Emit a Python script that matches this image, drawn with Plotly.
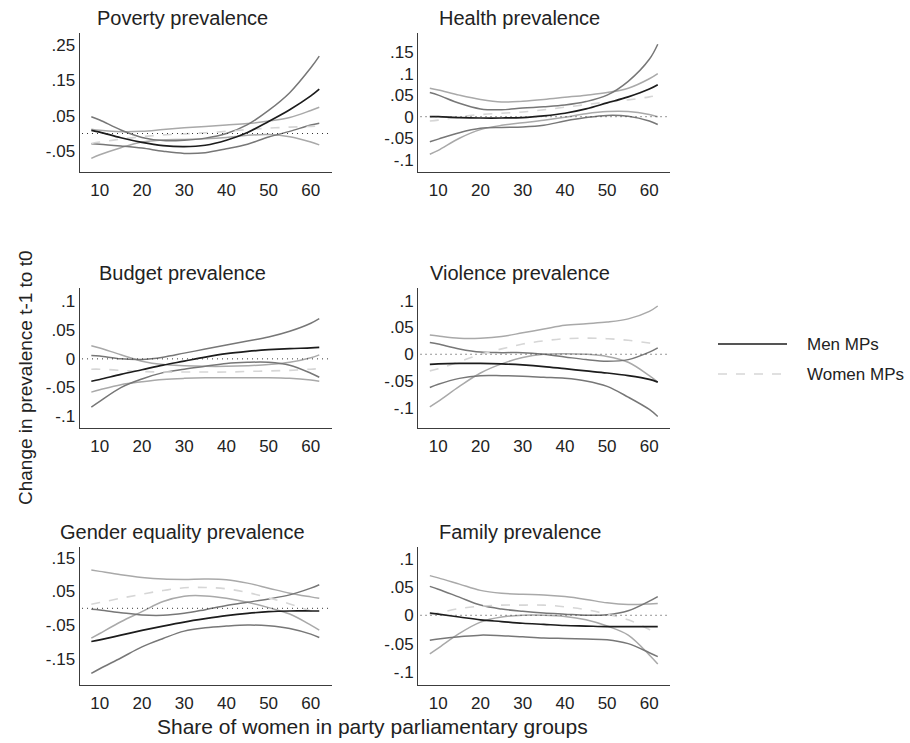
import plotly.graph_objects as go

# Share of women in party parliamentary groups (evaluation points)
share = [8, 10, 15, 20, 25, 30, 35, 40, 45, 50, 55, 60, 62]

# Poverty prevalence
poverty_men = [0.009, 0.004, -0.012, -0.025, -0.034, -0.037, -0.033, -0.019, 0.003, 0.034, 0.067, 0.106, 0.125]
poverty_men_hi = [0.047, 0.038, 0.010, -0.011, -0.020, -0.019, -0.013, 0.000, 0.025, 0.065, 0.115, 0.185, 0.218]
poverty_men_lo = [-0.029, -0.030, -0.035, -0.041, -0.050, -0.056, -0.054, -0.043, -0.030, -0.010, 0.006, 0.024, 0.029]
poverty_women = [-0.028, -0.024, -0.016, -0.009, -0.004, -0.001, 0.002, 0.006, 0.011, 0.015, 0.018, 0.020, 0.021]
poverty_women_hi = [0.012, 0.009, 0.005, 0.006, 0.011, 0.016, 0.020, 0.024, 0.028, 0.035, 0.045, 0.065, 0.074]
poverty_women_lo = [-0.070, -0.060, -0.040, -0.024, -0.018, -0.017, -0.015, -0.011, -0.005, -0.003, -0.009, -0.024, -0.032]

# Health prevalence
health_men = [0.000, 0.000, -0.002, -0.003, -0.003, -0.002, 0.002, 0.008, 0.018, 0.032, 0.046, 0.064, 0.074]
health_men_hi = [0.056, 0.050, 0.031, 0.018, 0.016, 0.020, 0.023, 0.027, 0.035, 0.050, 0.082, 0.133, 0.168]
health_men_lo = [-0.058, -0.052, -0.037, -0.027, -0.025, -0.024, -0.020, -0.010, -0.002, 0.003, 0.001, -0.010, -0.018]
health_women = [-0.010, -0.008, 0.000, 0.005, 0.008, 0.011, 0.016, 0.022, 0.028, 0.034, 0.039, 0.046, 0.050]
health_women_hi = [0.066, 0.062, 0.050, 0.040, 0.034, 0.036, 0.040, 0.045, 0.050, 0.056, 0.066, 0.088, 0.100]
health_women_lo = [-0.087, -0.078, -0.050, -0.030, -0.020, -0.014, -0.008, -0.001, 0.007, 0.012, 0.012, 0.005, 0.000]

# Budget prevalence
budget_men = [-0.039, -0.036, -0.027, -0.019, -0.011, -0.004, 0.003, 0.009, 0.013, 0.016, 0.018, 0.019, 0.020]
budget_men_hi = [0.006, 0.005, 0.000, -0.001, 0.003, 0.010, 0.017, 0.024, 0.031, 0.038, 0.048, 0.062, 0.070]
budget_men_lo = [-0.084, -0.074, -0.050, -0.035, -0.024, -0.018, -0.013, -0.008, -0.006, -0.006, -0.011, -0.025, -0.032]
budget_women = [-0.018, -0.018, -0.020, -0.022, -0.023, -0.023, -0.023, -0.023, -0.022, -0.021, -0.020, -0.018, -0.017]
budget_women_hi = [0.023, 0.019, 0.007, -0.004, -0.010, -0.012, -0.013, -0.013, -0.012, -0.010, -0.006, 0.002, 0.007]
budget_women_lo = [-0.058, -0.054, -0.045, -0.040, -0.036, -0.034, -0.033, -0.033, -0.033, -0.033, -0.034, -0.037, -0.039]

# Violence prevalence
violence_men = [-0.019, -0.018, -0.017, -0.017, -0.018, -0.020, -0.023, -0.027, -0.031, -0.035, -0.040, -0.047, -0.052]
violence_men_hi = [0.022, 0.019, 0.010, 0.004, 0.003, 0.003, 0.000, -0.005, -0.010, -0.013, -0.010, 0.004, 0.012]
violence_men_lo = [-0.062, -0.056, -0.045, -0.040, -0.040, -0.041, -0.043, -0.045, -0.050, -0.060, -0.080, -0.103, -0.116]
violence_women = [-0.031, -0.027, -0.014, 0.000, 0.010, 0.019, 0.025, 0.029, 0.030, 0.029, 0.026, 0.021, 0.019]
violence_women_hi = [0.036, 0.034, 0.030, 0.030, 0.033, 0.040, 0.047, 0.054, 0.057, 0.060, 0.066, 0.080, 0.090]
violence_women_lo = [-0.098, -0.088, -0.060, -0.035, -0.018, -0.006, 0.000, 0.001, 0.000, -0.004, -0.015, -0.040, -0.052]

# Gender equality prevalence
gender_men = [-0.099, -0.094, -0.080, -0.066, -0.053, -0.041, -0.031, -0.022, -0.015, -0.010, -0.008, -0.008, -0.008]
gender_men_hi = [-0.003, -0.005, -0.013, -0.020, -0.021, -0.015, -0.004, 0.008, 0.018, 0.028, 0.040, 0.060, 0.070]
gender_men_lo = [-0.194, -0.180, -0.148, -0.115, -0.090, -0.068, -0.058, -0.053, -0.050, -0.052, -0.060, -0.077, -0.087]
gender_women = [0.012, 0.017, 0.030, 0.042, 0.053, 0.061, 0.062, 0.058, 0.047, 0.031, 0.013, -0.008, -0.017]
gender_women_hi = [0.114, 0.110, 0.100, 0.092, 0.087, 0.086, 0.087, 0.085, 0.075, 0.060, 0.045, 0.034, 0.030]
gender_women_lo = [-0.089, -0.075, -0.040, -0.010, 0.020, 0.036, 0.037, 0.030, 0.018, 0.002, -0.017, -0.050, -0.065]

# Family prevalence
family_men = [0.004, 0.002, -0.003, -0.008, -0.011, -0.014, -0.016, -0.018, -0.019, -0.020, -0.020, -0.020, -0.020]
family_men_hi = [0.051, 0.046, 0.032, 0.018, 0.011, 0.007, 0.004, 0.002, 0.000, 0.001, 0.008, 0.025, 0.033]
family_men_lo = [-0.044, -0.042, -0.038, -0.035, -0.036, -0.038, -0.040, -0.041, -0.042, -0.043, -0.050, -0.066, -0.073]
family_women = [0.001, 0.004, 0.012, 0.016, 0.018, 0.018, 0.018, 0.015, 0.010, 0.002, -0.008, -0.025, -0.033]
family_women_hi = [0.070, 0.066, 0.055, 0.044, 0.039, 0.037, 0.036, 0.033, 0.028, 0.022, 0.019, 0.020, 0.021]
family_women_lo = [-0.068, -0.058, -0.032, -0.012, -0.003, 0.000, 0.000, -0.002, -0.008, -0.019, -0.035, -0.070, -0.086]

x_ticks = [10, 20, 30, 40, 50, 60]

panels = [
    dict(title="Poverty prevalence",
         men=poverty_men, men_hi=poverty_men_hi, men_lo=poverty_men_lo,
         women=poverty_women, women_hi=poverty_women_hi, women_lo=poverty_women_lo,
         yticks=[0.25, 0.15, 0.05, -0.05], ytext=[".25", ".15", ".05", "-.05"],
         yrange=[-0.107, 0.283], col=0, top=33, bottom=171.5),
    dict(title="Health prevalence",
         men=health_men, men_hi=health_men_hi, men_lo=health_men_lo,
         women=health_women, women_hi=health_women_hi, women_lo=health_women_lo,
         yticks=[0.15, 0.1, 0.05, 0, -0.05, -0.1], ytext=[".15", ".1", ".05", "0", "-.05", "-.1"],
         yrange=[-0.127, 0.194], col=1, top=33, bottom=171.5),
    dict(title="Budget prevalence",
         men=budget_men, men_hi=budget_men_hi, men_lo=budget_men_lo,
         women=budget_women, women_hi=budget_women_hi, women_lo=budget_women_lo,
         yticks=[0.1, 0.05, 0, -0.05, -0.1], ytext=[".1", ".05", "0", "-.05", "-.1"],
         yrange=[-0.12, 0.123], col=0, top=288.3, bottom=427.7),
    dict(title="Violence prevalence",
         men=violence_men, men_hi=violence_men_hi, men_lo=violence_men_lo,
         women=violence_women, women_hi=violence_women_hi, women_lo=violence_women_lo,
         yticks=[0.1, 0.05, 0, -0.05, -0.1], ytext=[".1", ".05", "0", "-.05", "-.1"],
         yrange=[-0.137, 0.123], col=1, top=288.3, bottom=427.7),
    dict(title="Gender equality prevalence",
         men=gender_men, men_hi=gender_men_hi, men_lo=gender_men_lo,
         women=gender_women, women_hi=gender_women_hi, women_lo=gender_women_lo,
         yticks=[0.15, 0.05, -0.05, -0.15], ytext=[".15", ".05", "-.05", "-.15"],
         yrange=[-0.2285, 0.1826], col=0, top=547, bottom=685),
    dict(title="Family prevalence",
         men=family_men, men_hi=family_men_hi, men_lo=family_men_lo,
         women=family_women, women_hi=family_women_hi, women_lo=family_women_lo,
         yticks=[0.1, 0.05, 0, -0.05, -0.1], ytext=[".1", ".05", "0", "-.05", "-.1"],
         yrange=[-0.123, 0.1205], col=1, top=547, bottom=685),
]

W, H = 910, 743
FONT = "Liberation Sans, Arial, sans-serif"
TEXT = "#222222"
AXIS = "#3c3c3c"
MEN = "#1c1c1c"
MEN_CI = "#777777"
WOMEN = "#d6d6d6"
WOMEN_CI = "#a9a9a9"

col_px = [(79.5, 331.5), (418, 670)]
title_cx = [182, 519.5]
x_range = [5.2, 64.9]

fig = go.Figure()
layout = dict(
    width=W, height=H,
    margin=dict(l=0, r=0, t=0, b=0),
    paper_bgcolor="white", plot_bgcolor="white",
    showlegend=False,
    font=dict(family=FONT, color=TEXT),
)
shapes = []
annotations = []

for i, p in enumerate(panels):
    n = "" if i == 0 else str(i + 1)
    xa, ya = "x" + n, "y" + n
    x0, x1 = col_px[p["col"]]
    layout["xaxis" + n] = dict(
        domain=[x0 / W, x1 / W], range=x_range, anchor=ya,
        tickvals=x_ticks, ticks="", showgrid=False, zeroline=False,
        showline=True, linecolor=AXIS, linewidth=1,
        tickfont=dict(size=17, color=TEXT, family=FONT), ticklabelstandoff=3,
    )
    layout["yaxis" + n] = dict(
        domain=[1 - p["bottom"] / H, 1 - p["top"] / H], range=p["yrange"], anchor=xa,
        tickvals=p["yticks"], ticktext=p["ytext"], ticks="", showgrid=False, zeroline=False,
        showline=True, linecolor=AXIS, linewidth=1,
        tickfont=dict(size=17, color=TEXT, family=FONT), ticklabelstandoff=0,
    )
    # dotted reference line at zero
    shapes.append(dict(type="line", xref=xa + " domain", yref=ya, x0=0.01, x1=1.0, y0=0, y1=0,
                       line=dict(color="#333333", width=1, dash="1px,4px")))
    series = [
        (p["women_hi"], WOMEN_CI, 1.5, "solid"),
        (p["women_lo"], WOMEN_CI, 1.5, "solid"),
        (p["men_hi"], MEN_CI, 1.5, "solid"),
        (p["men_lo"], MEN_CI, 1.5, "solid"),
        (p["women"], WOMEN, 1.6, "dash"),
        (p["men"], MEN, 1.7, "solid"),
    ]
    for ys, color, width, dash in series:
        fig.add_trace(go.Scatter(x=share, y=ys, mode="lines", xaxis=xa, yaxis=ya,
                                 line=dict(color=color, width=width, dash=dash, shape="spline", smoothing=1.0),
                                 hoverinfo="skip"))
    annotations.append(dict(text=p["title"], xref="paper", yref="paper",
                            x=title_cx[p["col"]] / W, y=1 - (p["top"] - 15) / H,
                            xanchor="center", yanchor="middle", showarrow=False,
                            font=dict(size=20, color=TEXT, family=FONT)))

# Axis titles shared by all panels
annotations.append(dict(text="Change in prevalence t-1 to t0", xref="paper", yref="paper",
                        x=25 / W, y=1 - 378 / H, textangle=-90, showarrow=False,
                        xanchor="center", yanchor="middle", font=dict(size=19, color=TEXT, family=FONT)))
annotations.append(dict(text="Share of women in party parliamentary groups", xref="paper", yref="paper",
                        x=372 / W, y=1 - 726 / H, showarrow=False,
                        xanchor="center", yanchor="middle", font=dict(size=21, color=TEXT, family=FONT)))

# Key
legend_items = [("Men MPs", MEN, "solid", 344), ("Women MPs", WOMEN, "dash", 374)]
for label, color, dash, py in legend_items:
    shapes.append(dict(type="line", xref="paper", yref="paper", x0=718 / W, x1=787 / W,
                       y0=1 - py / H, y1=1 - py / H, line=dict(color=color, width=1.7, dash=dash)))
    annotations.append(dict(text=label, xref="paper", yref="paper", x=805 / W, y=1 - py / H,
                            xanchor="left", yanchor="middle", showarrow=False,
                            font=dict(size=17, color=TEXT, family=FONT)))

layout["shapes"] = shapes
layout["annotations"] = annotations
fig.update_layout(**layout)
fig.write_html("out.html")
